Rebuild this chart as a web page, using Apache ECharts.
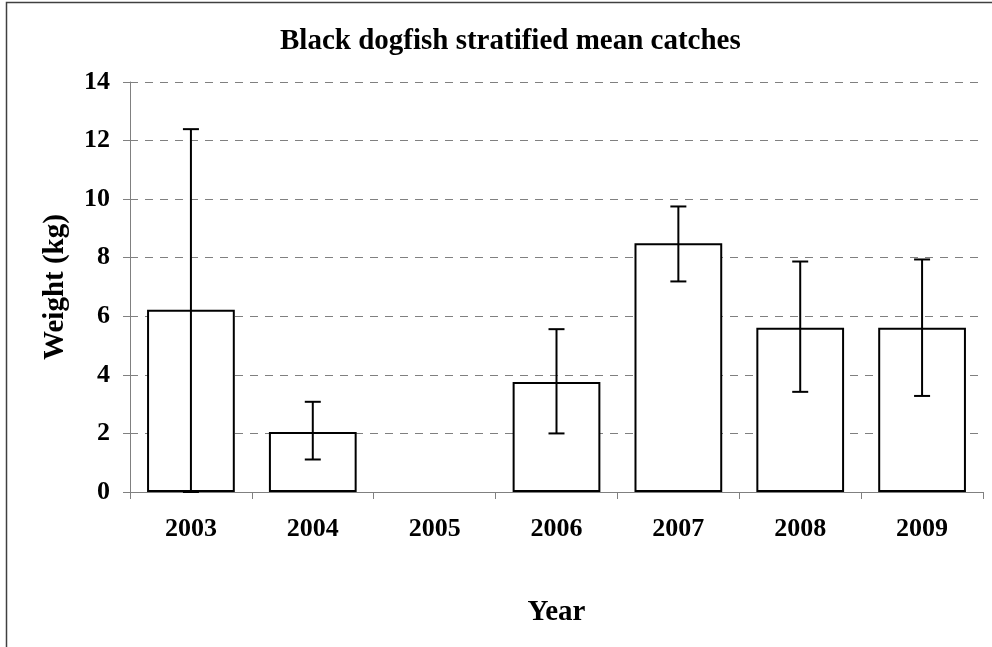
<!DOCTYPE html>
<html>
<head>
<meta charset="utf-8">
<script src="https://cdn.jsdelivr.net/npm/echarts@6/dist/echarts.min.js"></script>
<style>
  html, body { margin: 0; padding: 0; background: #fff; }
  #chart { width: 992px; height: 647px; }
</style>
</head>
<body>
<div id="chart"></div>
<script>
// Survey years and stratified mean catch weights (kg)
const years = ['2003', '2004', '2005', '2006', '2007', '2008', '2009'];
const meanWeight = [6.22, 2.05, null, 3.76, 8.49, 5.61, 5.61];
const errLow = [0.0, 1.11, null, 2.0, 7.19, 3.42, 3.28];
const errHigh = [12.39, 3.08, null, 5.56, 9.75, 7.87, 7.94];
const yTicks = { min: 0, max: 14, step: 2 };

const serif = '"Liberation Serif", "DejaVu Serif", serif';
const gray = '#808080';

const errorData = years.map((y, i) =>
  errLow[i] == null ? [i, null, null] : [i, errLow[i], errHigh[i]]
);

const chart = echarts.init(document.getElementById('chart'), null, { renderer: 'canvas' });

chart.setOption({
  animation: false,
  backgroundColor: '#ffffff',
  title: {
    text: 'Black dogfish stratified mean catches',
    left: 275,
    top: 22,
    textStyle: { fontFamily: serif, fontWeight: 'bold', fontSize: 29, color: '#000' }
  },
  grid: { left: 130, right: 9, top: 82, bottom: 155 },
  xAxis: {
    type: 'category',
    data: years,
    name: 'Year',
    nameLocation: 'middle',
    nameGap: 106,
    nameTextStyle: { fontFamily: serif, fontWeight: 'bold', fontSize: 29, color: '#000' },
    axisLine: { lineStyle: { color: gray, width: 1 } },
    axisTick: { show: true, length: 7, lineStyle: { color: gray } },
    axisLabel: { fontFamily: serif, fontWeight: 'bold', fontSize: 26, color: '#000', margin: 24 }
  },
  yAxis: {
    type: 'value',
    min: yTicks.min,
    max: yTicks.max,
    interval: yTicks.step,
    name: 'Weight (kg)',
    nameLocation: 'middle',
    nameGap: 60,
    nameRotate: 90,
    nameTextStyle: { fontFamily: serif, fontWeight: 'bold', fontSize: 29, color: '#000' },
    axisLine: { show: true, lineStyle: { color: gray, width: 1 } },
    axisTick: { show: true, length: 7, lineStyle: { color: gray } },
    axisLabel: { fontFamily: serif, fontWeight: 'bold', fontSize: 26, color: '#000', margin: 20 },
    splitLine: { show: true, lineStyle: { color: gray, width: 1, type: [8, 7] } }
  },
  series: [
    {
      type: 'bar',
      data: meanWeight,
      barCategoryGap: '28%',
      itemStyle: { color: '#ffffff', borderColor: '#000000', borderWidth: 2 },
      z: 2
    },
    {
      type: 'custom',
      data: errorData,
      z: 3,
      renderItem: function (params, api) {
        const lo = api.value(1);
        const hi = api.value(2);
        if (lo == null || hi == null || isNaN(lo) || isNaN(hi)) return null;
        const x = api.value(0);
        const pLo = api.coord([x, lo]);
        const pHi = api.coord([x, hi]);
        const cap = 8;
        const style = { stroke: '#000', lineWidth: 2, fill: null };
        return {
          type: 'group',
          children: [
            { type: 'line', shape: { x1: pLo[0], y1: pLo[1], x2: pHi[0], y2: pHi[1] }, style: style },
            { type: 'line', shape: { x1: pHi[0] - cap, y1: pHi[1], x2: pHi[0] + cap, y2: pHi[1] }, style: style },
            { type: 'line', shape: { x1: pLo[0] - cap, y1: pLo[1], x2: pLo[0] + cap, y2: pLo[1] }, style: style }
          ]
        };
      }
    }
  ],
  graphic: [
    {
      type: 'rect',
      shape: { x: 6.5, y: 2.5, width: 1200, height: 800 },
      style: { fill: null, stroke: '#404040', lineWidth: 1.5 },
      silent: true,
      z: -1
    }
  ]
});
</script>
</body>
</html>
